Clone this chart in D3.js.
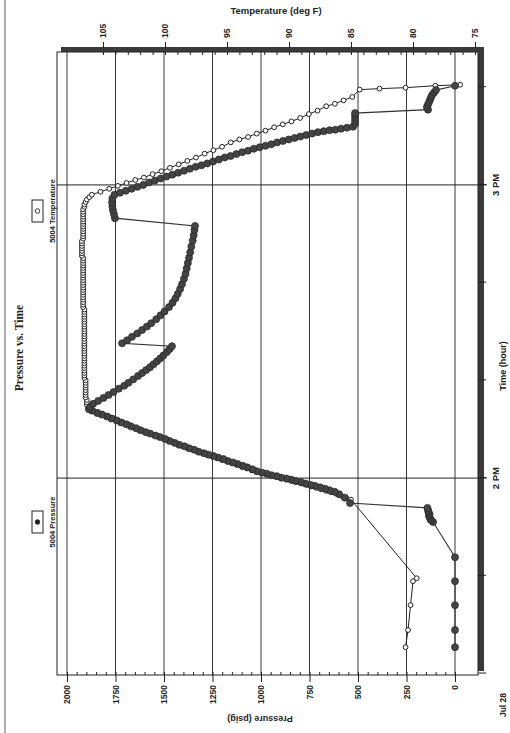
<!DOCTYPE html>
<html>
<head>
<meta charset="utf-8">
<script src="https://cdn.jsdelivr.net/npm/d3@7/dist/d3.min.js"></script>
<style>
  html, body { margin: 0; padding: 0; background: #fff; }
  svg { display: block; }
</style>
</head>
<body>
<svg id="chart" width="510" height="733"></svg>
<script>
// Pressure and temperature log for the 5004 run, Jul 28.
// Times are minutes after 1:00 PM.
const pressureMinutes = [
  25.4, 28.9, 34.0, 38.9, 43.8,
  51.0, 51.4, 51.8, 52.2, 52.6, 53.0, 53.4, 53.9,
  54.9, 56.0, 56.7, 57.2, 57.5, 57.8, 58.1, 58.4, 58.6, 58.9, 59.2, 59.4, 59.7, 59.9, 60.1, 60.4, 60.6, 60.9, 61.1,
  61.4, 61.8, 62.2, 62.5, 62.9, 63.2, 63.5, 63.9, 64.2, 64.5, 64.8, 65.1, 65.4, 65.8, 66.1, 66.5, 66.8, 67.2, 67.6,
  68.0, 68.4, 68.7, 69.1, 69.4, 69.8, 70.2, 70.6, 71.0, 71.4, 71.8, 72.2, 72.6, 73.0, 73.3, 73.8, 74.1,
  74.6, 75.2, 75.8, 76.4, 77.0, 77.6, 78.3, 78.9, 79.5, 80.2, 80.9, 81.5, 82.1, 82.7, 83.3, 83.9, 84.5, 85.1, 85.8, 86.4, 87.0,
  87.6, 88.2, 88.9, 89.6, 90.3, 91.0, 91.7, 92.5, 93.3, 94.1, 95.0, 95.9, 96.8, 97.7, 98.7, 99.7, 100.8, 101.8, 102.9,
  104.0, 105.1, 106.2, 107.4, 108.6, 109.7, 110.8, 111.6,
  113.2, 114.0, 114.8, 115.6, 116.4, 117.2, 118.0,
  118.4, 118.8, 119.2, 119.6, 120.0, 120.5, 120.9, 121.3, 121.7, 122.1, 122.5, 122.9, 123.3, 123.7, 124.0, 124.4, 124.8,
  125.2, 125.6, 125.9, 126.3, 126.7, 127.0, 127.4, 127.7, 128.0, 128.3, 128.7, 129.0, 129.3, 129.6, 129.9, 130.2, 130.5,
  130.8, 131.0, 131.2, 131.3, 131.5, 131.7, 131.9,
  132.5, 133.1, 133.7, 134.3, 134.7,
  135.4, 135.9, 136.4, 136.9, 137.4, 137.9, 138.4, 138.9, 139.4, 140.3
];
const pressurePsig = [
  0, 0, 0, 0, 0,
  113, 124, 129, 134, 131, 136, 139, 142,
  541, 568, 597, 620, 646, 669, 695, 721, 744, 771, 795, 822, 845, 869, 896, 919, 946, 970, 994,
  1021, 1044, 1071, 1094, 1121, 1144, 1171, 1194, 1221, 1244, 1271, 1294, 1321, 1344, 1371, 1394, 1421, 1444, 1471,
  1494, 1521, 1544, 1571, 1594, 1621, 1644, 1671, 1694, 1721, 1744, 1771, 1794, 1821, 1844, 1870, 1887,
  1880, 1865, 1839, 1812, 1786, 1760, 1733, 1705, 1683, 1659, 1634, 1613, 1592, 1572, 1554, 1536, 1519, 1503, 1485, 1471, 1459,
  1716, 1690, 1665, 1638, 1613, 1588, 1566, 1540, 1518, 1497, 1474, 1456, 1441, 1429, 1417, 1407, 1397, 1389, 1383,
  1377, 1371, 1365, 1359, 1352, 1347, 1343, 1340,
  1753, 1758, 1763, 1766, 1768, 1766, 1755,
  1727, 1697, 1667, 1637, 1607, 1577, 1547, 1517, 1487, 1457, 1427, 1397, 1367, 1337, 1307, 1277, 1247,
  1217, 1187, 1157, 1127, 1097, 1067, 1037, 1007, 977, 947, 917, 887, 857, 827, 797, 767, 737,
  707, 677, 647, 617, 587, 557, 526,
  515, 515, 515, 515, 515,
  139, 145, 140, 134, 129, 124, 118, 108, 98, 0
];

const temperatureMinutes = [
  25.4, 28.9, 34.0, 38.9, 39.5,
  55.6, 56.0, 56.4, 56.8, 57.1, 57.4, 57.7, 58.0, 58.3, 58.6, 58.9, 59.2, 59.4, 59.7, 59.9, 60.2, 60.5, 60.7, 61.0, 61.3,
  61.6, 62.0, 62.3, 62.7, 63.0, 63.4, 63.7, 64.1, 64.4, 64.8, 65.1, 65.5, 65.9, 66.2, 66.6, 67.0, 67.4, 67.8, 68.2, 68.6,
  68.9, 69.3, 69.7, 70.1, 70.5, 71.0, 71.4, 71.8, 72.3, 72.7, 73.1, 73.5, 73.8, 74.4, 75.0,
  75.5, 76.0, 76.5, 77.0, 77.5, 78.0, 78.5, 79.0, 79.5, 80.0,
  80.5, 81.0, 81.5, 82.0, 82.5, 83.0, 83.5, 84.0, 84.5, 85.0, 85.5, 86.0, 86.5, 87.0, 87.5, 88.0, 88.5, 89.0, 89.5, 90.0,
  90.5, 91.0, 91.5, 92.0, 92.5, 93.0, 93.5, 94.0, 94.5,
  95.0, 95.5, 96.0, 96.5, 97.0, 97.5, 98.0, 98.5, 99.0, 99.5, 100.0, 100.5, 101.0, 101.5, 102.0, 102.5, 103.0, 103.5, 104.0,
  104.5, 105.0, 105.5, 106.0, 106.5, 107.0, 107.5, 108.0, 108.5, 109.0, 109.5, 110.0, 110.5, 111.0,
  111.5, 112.0, 112.5, 113.0, 113.5, 114.0, 114.5, 115.0, 115.5, 116.0, 116.5, 117.0, 117.5, 118.0,
  118.6, 119.2, 119.8, 120.4, 121.0, 121.5, 122.2, 122.8, 123.5, 124.2, 124.9, 125.6, 126.4, 127.1, 127.8, 128.7,
  129.3, 129.8, 130.5, 131.1, 131.8, 132.4, 133.0, 133.7, 134.5, 135.2, 136.1, 136.6, 137.3, 138.0,
  139.5, 139.7, 139.9, 140.3, 140.5
];
const temperatureDegF = [
  80.6, 80.4, 80.2, 80.0, 79.7,
  85.0, 85.4, 85.8, 86.2, 86.6, 87.0, 87.4, 87.8, 88.2, 88.6, 89.0, 89.4, 89.8, 90.2, 90.6, 91.0, 91.4, 91.8, 92.2, 92.6,
  93.0, 93.4, 93.8, 94.2, 94.6, 95.0, 95.4, 95.8, 96.2, 96.6, 97.0, 97.4, 97.8, 98.2, 98.6, 99.0, 99.4, 99.8, 100.2, 100.6,
  101.0, 101.4, 101.8, 102.2, 102.6, 103.0, 103.4, 103.8, 104.2, 104.6, 105.0, 105.4, 105.8, 106.2, 106.3,
  106.3, 106.3, 106.4, 106.4, 106.4, 106.4, 106.4, 106.4, 106.4, 106.4,
  106.5, 106.5, 106.5, 106.5, 106.5, 106.5, 106.5, 106.5, 106.5, 106.5, 106.5, 106.5, 106.5, 106.5, 106.5, 106.5, 106.5, 106.5, 106.5, 106.5,
  106.5, 106.5, 106.5, 106.5, 106.5, 106.5, 106.5, 106.5, 106.5,
  106.6, 106.6, 106.6, 106.6, 106.6, 106.6, 106.6, 106.6, 106.6, 106.6, 106.6, 106.6, 106.6, 106.6, 106.6, 106.6, 106.6, 106.6, 106.6,
  106.6, 106.6, 106.7, 106.7, 106.7, 106.7, 106.7, 106.7, 106.7, 106.6, 106.6, 106.6, 106.6, 106.6,
  106.6, 106.6, 106.6, 106.6, 106.6, 106.6, 106.6, 106.6, 106.5, 106.5, 106.4, 106.3, 106.1, 105.9,
  105.2, 104.5, 103.8, 103.1, 102.4, 101.7, 101.0, 100.3, 99.6, 98.9, 98.2, 97.5, 96.8, 96.1, 95.4, 94.7,
  94.0, 93.3, 92.6, 91.9, 91.2, 90.5, 89.8, 89.1, 88.4, 87.7, 87.0, 86.3, 85.6, 84.9,
  84.3, 82.7, 80.6, 78.2, 76.2
];

const pressureTicks = [0, 250, 500, 750, 1000, 1250, 1500, 1750, 2000];
const temperatureTicks = [75, 80, 85, 90, 95, 100, 105];
const hourLabels = ["2 PM", "3 PM"];
const dateLabel = "Jul 28";

const svg = d3.select("#chart");
svg.append("rect").attr("width", 510).attr("height", 733).attr("fill", "#fff");
// scanned page edge
svg.append("line").attr("x1", 5).attr("x2", 5).attr("y1", 0).attr("y2", 733)
  .attr("stroke", "#777").attr("stroke-width", 1.2);

// The chart is laid out landscape (733 wide, 510 tall) and turned a quarter turn.
const g = svg.append("g").attr("transform", "translate(0,733) rotate(-90)");

const plotL = 58, plotR = 681, plotT = 57, plotB = 478;
const base = new Date(2000, 6, 28, 13, 0, 0);
const toDate = m => new Date(base.getTime() + m * 60000);

const x = d3.scaleTime()
  .domain([toDate(19.7), toDate(147.2)])
  .range([plotL, plotR]);
const yP = d3.scaleLinear().domain([0, 2000]).range([455, 67]);
const yT = d3.scaleLinear().domain([75, 105]).range([475, 103]);

const ink = "#222";
const font = "Liberation Sans, Arial, sans-serif";

// drop shadow of the plot frame
g.append("rect").attr("x", plotL + 4).attr("y", plotB).attr("width", plotR - plotL + 1).attr("height", 6).attr("fill", "#3a3a3a");
g.append("rect").attr("x", plotR).attr("y", plotT + 4).attr("width", 5).attr("height", plotB - plotT + 2).attr("fill", "#3a3a3a");

// plot frame
g.append("rect").attr("x", plotL).attr("y", plotT).attr("width", plotR - plotL).attr("height", plotB - plotT)
  .attr("fill", "none").attr("stroke", ink).attr("stroke-width", 1);

// pressure grid lines
g.append("g").selectAll("line").data(pressureTicks).join("line")
  .attr("x1", plotL).attr("x2", plotR)
  .attr("y1", d => yP(d)).attr("y2", d => yP(d))
  .attr("stroke", ink).attr("stroke-width", 0.9);

// hour grid lines
const hourTicks = [toDate(60), toDate(120)];
g.append("g").selectAll("line").data(hourTicks).join("line")
  .attr("x1", d => x(d)).attr("x2", d => x(d))
  .attr("y1", plotT).attr("y2", plotB + 9)
  .attr("stroke", ink).attr("stroke-width", 1);

// pressure axis (left)
const pAxis = g.append("g").attr("transform", `translate(${plotL},0)`)
  .call(d3.axisLeft(yP).tickValues(pressureTicks).tickSize(7).tickPadding(3).tickFormat(d3.format("d")));
pAxis.select(".domain").remove();
pAxis.selectAll("line").attr("stroke", ink);
pAxis.selectAll("text").attr("font-family", font).attr("font-size", 8.5).attr("font-weight", "bold").attr("fill", ink);
g.append("g").attr("transform", `translate(${plotL},0)`)
  .call(d3.axisRight(yP).ticks(40).tickSize(3).tickFormat(""))
  .call(a => a.select(".domain").remove())
  .selectAll("line").attr("stroke", ink);

// temperature axis (right)
const tAxis = g.append("g").attr("transform", `translate(${plotR + 4},0)`)
  .call(d3.axisRight(yT).tickValues(temperatureTicks).tickSize(6).tickPadding(4).tickFormat(d3.format("d")));
tAxis.select(".domain").remove();
tAxis.selectAll("line").attr("stroke", ink);
tAxis.selectAll("text").attr("font-family", font).attr("font-size", 8.5).attr("font-weight", "bold").attr("fill", ink);
g.append("g").attr("transform", `translate(${plotR},0)`)
  .call(d3.axisLeft(yT).ticks(30).tickSize(3).tickFormat(""))
  .call(a => a.select(".domain").remove())
  .selectAll("line").attr("stroke", ink);

// time axis (bottom)
const xAxis = g.append("g").attr("transform", `translate(0,${plotB})`)
  .call(d3.axisBottom(x).ticks(d3.timeMinute.every(20)).tickSize(8).tickFormat(""));
xAxis.select(".domain").remove();
xAxis.selectAll("line").attr("stroke", ink);
g.append("g").selectAll("text").data(hourTicks).join("text")
  .attr("x", d => x(d)).attr("y", 499)
  .attr("text-anchor", "middle").attr("font-family", font).attr("font-size", 9.5).attr("font-weight", "bold").attr("fill", ink)
  .text((d, i) => hourLabels[i]);
g.append("text").attr("x", 28).attr("y", 506).attr("text-anchor", "middle")
  .attr("font-family", font).attr("font-size", 8.5).attr("font-weight", "bold").attr("fill", ink).text(dateLabel);

// axis titles
g.append("text").attr("x", 367).attr("y", 506).attr("text-anchor", "middle")
  .attr("font-family", font).attr("font-size", 9).attr("font-weight", "bold").attr("fill", ink).text("Time (hour)");
g.append("text").attr("transform", "translate(17,260) rotate(-90)").attr("text-anchor", "middle")
  .attr("font-family", font).attr("font-size", 9).attr("font-weight", "bold").attr("fill", ink).text("Pressure (psig)");
g.append("text").attr("transform", "translate(719,276) rotate(90)").attr("text-anchor", "middle")
  .attr("font-family", font).attr("font-size", 9.5).attr("font-weight", "bold").attr("fill", ink).text("Temperature (deg F)");

// title
g.append("text").attr("x", 385).attr("y", 23).attr("text-anchor", "middle")
  .attr("font-family", "Liberation Serif, Times New Roman, serif").attr("font-size", 11.5).attr("font-weight", "bold")
  .attr("fill", ink).text("Pressure vs. Time");

// legend
const legend = [
  { label: "5004 Pressure", cx: 211, filled: true },
  { label: "5004 Temperature", cx: 522, filled: false }
];
const lg = g.append("g").selectAll("g").data(legend).join("g");
lg.append("rect").attr("x", d => d.cx - 11).attr("y", 32).attr("width", 22).attr("height", 11)
  .attr("fill", "#fff").attr("stroke", ink).attr("stroke-width", 1);
lg.append("circle").attr("cx", d => d.cx).attr("cy", 37.5).attr("r", 2.3)
  .attr("fill", d => d.filled ? ink : "#fff").attr("stroke", ink).attr("stroke-width", 0.9);
lg.append("text").attr("x", d => d.cx).attr("y", 55).attr("text-anchor", "middle")
  .attr("font-family", font).attr("font-size", 7.5).attr("font-weight", "bold").attr("fill", ink).text(d => d.label);

// series
const pressure = pressureMinutes.map((m, i) => ({ t: toDate(m), v: pressurePsig[i] }));
const temperature = temperatureMinutes.map((m, i) => ({ t: toDate(m), v: temperatureDegF[i] }));

g.append("clipPath").attr("id", "plot").append("rect")
  .attr("x", plotL).attr("y", plotT).attr("width", plotR - plotL).attr("height", plotB - plotT);
const plot = g.append("g").attr("clip-path", "url(#plot)");

// temperature underneath, pressure drawn over it
plot.append("path").datum(temperature)
  .attr("d", d3.line().x(d => x(d.t)).y(d => yT(d.v)))
  .attr("fill", "none").attr("stroke", ink).attr("stroke-width", 1);
plot.append("g").selectAll("circle").data(temperature).join("circle")
  .attr("cx", d => x(d.t)).attr("cy", d => yT(d.v)).attr("r", 2.4)
  .attr("fill", "#fff").attr("stroke", ink).attr("stroke-width", 1);

plot.append("path").datum(pressure)
  .attr("d", d3.line().x(d => x(d.t)).y(d => yP(d.v)))
  .attr("fill", "none").attr("stroke", "#333").attr("stroke-width", 1.1);
plot.append("g").selectAll("circle").data(pressure).join("circle")
  .attr("cx", d => x(d.t)).attr("cy", d => yP(d.v)).attr("r", 3.5)
  .attr("fill", "#444").attr("stroke", "#222").attr("stroke-width", 0.7);
</script>
</body>
</html>
